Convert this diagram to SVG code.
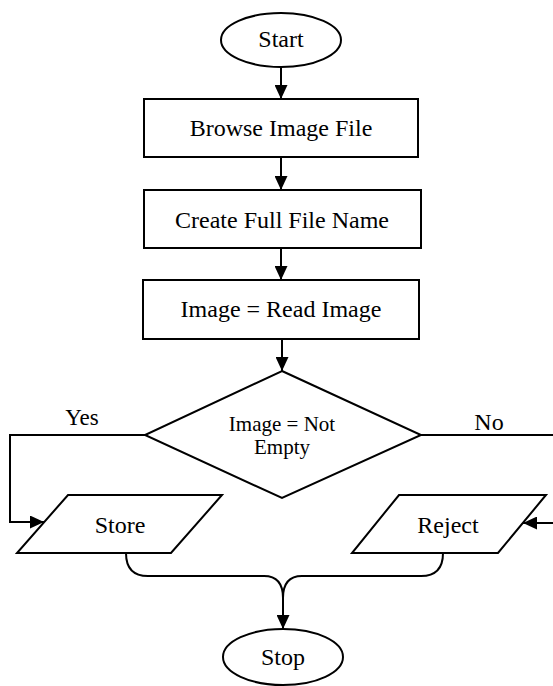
<svg xmlns="http://www.w3.org/2000/svg" width="553" height="686" viewBox="0 0 553 686">
<style>
.s{fill:#fff;stroke:#000;stroke-width:2}
.c{fill:none;stroke:#000;stroke-width:2}
text{font-family:"Liberation Serif","Times New Roman",serif;fill:#000;text-anchor:middle}
.t{font-size:24px}
.d{font-size:21px}
</style>
<defs>
<marker id="ah" markerUnits="userSpaceOnUse" markerWidth="14" markerHeight="13" refX="14" refY="6.5" orient="auto">
<path d="M0,0 L14,6.5 L0,13 z" fill="#000"/>
</marker>
</defs>
<g id="connectors">
<line class="c" x1="281" y1="67" x2="281" y2="99" marker-end="url(#ah)"/>
<line class="c" x1="281" y1="157" x2="281" y2="190" marker-end="url(#ah)"/>
<line class="c" x1="281" y1="248" x2="281" y2="280" marker-end="url(#ah)"/>
<line class="c" x1="282" y1="339" x2="282" y2="371" marker-end="url(#ah)"/>
<polyline class="c" points="145,435 10,435 10,522 44,522" marker-end="url(#ah)"/>
<polyline class="c" points="421,435 560,435"/>
<line class="c" x1="560" y1="523" x2="523" y2="523" marker-end="url(#ah)"/>
<path class="c" d="M126,553 Q126,576 148,576 L264,576 Q283,576 283,598"/>
<path class="c" d="M443,553 Q443,576 421,576 L302,576 Q283,576 283,598"/>
<line class="c" x1="283" y1="597" x2="283" y2="629" marker-end="url(#ah)"/>
<text class="t" x="82" y="425" style="font-size:23px">Yes</text>
<text class="t" x="489" y="430">No</text>
</g>
<g id="start">
<ellipse class="s" cx="281" cy="40" rx="60" ry="27"/>
<text class="t" x="281" y="47">Start</text>
</g>
<g id="browse">
<rect class="s" x="144" y="99" width="274" height="58"/>
<text class="t" x="281" y="136">Browse Image File</text>
</g>
<g id="create">
<rect class="s" x="144" y="190" width="277" height="58"/>
<text class="t" x="282" y="228">Create Full File Name</text>
</g>
<g id="read">
<rect class="s" x="143" y="280" width="276" height="59"/>
<text class="t" x="281" y="317">Image = Read Image</text>
</g>
<g id="decision">
<polygon class="s" points="282,371 421,435 282,498 145,435"/>
<text class="d" x="282" y="431">Image = Not</text>
<text class="d" x="282" y="454">Empty</text>
</g>
<g id="store">
<polygon class="s" points="68,495 222,495 171,553 17,553"/>
<text class="t" x="120" y="533">Store</text>
</g>
<g id="reject">
<polygon class="s" points="399,495 546,495 498,553 352,553"/>
<text class="t" x="448" y="533">Reject</text>
</g>
<g id="stop">
<ellipse class="s" cx="283" cy="657" rx="60" ry="28"/>
<text class="t" x="283" y="665">Stop</text>
</g>
</svg>
